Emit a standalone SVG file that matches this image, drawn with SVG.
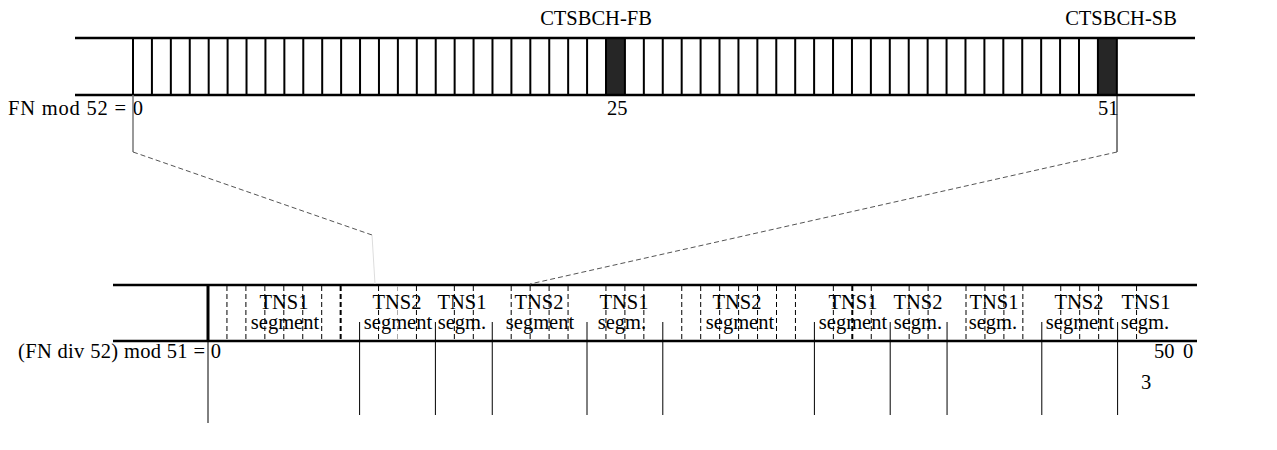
<svg xmlns="http://www.w3.org/2000/svg" width="1277" height="450" viewBox="0 0 1277 450">
<style>
text{font-family:"Liberation Serif","Times New Roman",serif;font-size:20.5px;fill:#000}
.mid{text-anchor:middle}
.end{text-anchor:end}
.bar{stroke:#000;stroke-width:2.6;fill:none}
.cell{stroke:#000;stroke-width:2;fill:none}
.dash{stroke:#000;stroke-width:1;stroke-dasharray:5,3;fill:none}
.bdash{stroke:#000;stroke-width:2;stroke-dasharray:5,3;fill:none}
.solid{stroke:#000;stroke-width:1;fill:none}
.conn{stroke:#555;stroke-width:1;stroke-dasharray:5,3;fill:none}
</style>
<rect width="1277" height="450" fill="#fff"/>
<g id="tdma-frame">
<rect x="606" y="38" width="18.92" height="57" fill="#262626"/>
<rect x="1097.92" y="38" width="18.92" height="57" fill="#262626"/>
<path class="bar" d="M75 38H1195M75 95H1195"/>
<path class="cell" d="M133 38V95M151.92 38V95M170.84 38V95M189.76 38V95M208.68 38V95M227.6 38V95M246.52 38V95M265.44 38V95M284.36 38V95M303.28 38V95M322.2 38V95M341.12 38V95M360.04 38V95M378.96 38V95M397.88 38V95M416.8 38V95M435.72 38V95M454.64 38V95M473.56 38V95M492.48 38V95M511.4 38V95M530.32 38V95M549.24 38V95M568.16 38V95M587.08 38V95M606 38V95M624.92 38V95M643.84 38V95M662.76 38V95M681.68 38V95M700.6 38V95M719.52 38V95M738.44 38V95M757.36 38V95M776.28 38V95M795.2 38V95M814.12 38V95M833.04 38V95M851.96 38V95M870.88 38V95M889.8 38V95M908.72 38V95M927.64 38V95M946.56 38V95M965.48 38V95M984.4 38V95M1003.32 38V95M1022.24 38V95M1041.16 38V95M1060.08 38V95M1079 38V95M1097.92 38V95M1116.84 38V95"/>
<text class="mid" x="596" y="25">CTSBCH-FB</text>
<text class="mid" x="1121" y="25">CTSBCH-SB</text>
<text x="8" y="115" textLength="135" lengthAdjust="spacing">FN mod 52 = 0</text>
<text x="607" y="115">25</text>
<text x="1098" y="115">51</text>
</g>
<g id="multiframe">
<path class="bar" d="M113 285H1197M113 341H1197"/>
<path stroke="#000" stroke-width="3" d="M208 285V341"/>
<path class="solid" d="M208 341V423"/>
<path class="dash" d="M226.95 286V340M245.9 286V340M264.85 286V340M283.8 286V340M302.75 286V340M321.7 286V340M378.55 286V340M416.45 286V340M454.35 286V340M473.3 286V340M511.2 286V340M530.15 286V340M549.1 286V340M568.05 286V340M605.95 286V340M624.9 286V340M643.85 286V340M681.75 286V340M700.7 286V340M719.65 286V340M738.6 286V340M757.55 286V340M776.5 286V340M795.45 286V340M833.35 286V340M871.25 286V340M909.15 286V340M928.1 286V340M966 286V340M984.95 286V340M1003.9 286V340M1022.85 286V340M1060.75 286V340M1079.7 286V340M1098.65 286V340M1136.55 286V340"/>
<path class="dash" d="M397.5 286V340" style="stroke:#aaa"/>
<path class="bdash" d="M340.65 286V340M852.3 286V340"/>
<path class="solid" d="M359.6 322V415M435.4 322V415M492.25 322V415M587 322V415M662.8 322V415M814.4 322V415M890.2 322V415M947.05 322V415M1041.8 322V415M1117.6 322V415"/>
</g>
<g id="segments">
<text class="mid" x="284" y="309">TNS1</text><text class="mid" x="285" y="329">segment</text>
<text class="mid" x="397" y="309">TNS2</text><text class="mid" x="398" y="329">segment</text>
<text class="mid" x="462" y="309">TNS1</text><text class="mid" x="462" y="329">segm.</text>
<text class="mid" x="539" y="309">TNS2</text><text class="mid" x="540" y="329">segment</text>
<text class="mid" x="624" y="309">TNS1</text><text class="mid" x="622" y="329">segm.</text>
<text class="mid" x="737" y="309">TNS2</text><text class="mid" x="740" y="329">segment</text>
<text class="mid" x="853" y="309">TNS1</text><text class="mid" x="853" y="329">segment</text>
<text class="mid" x="918" y="309">TNS2</text><text class="mid" x="918" y="329">segm.</text>
<text class="mid" x="994" y="309">TNS1</text><text class="mid" x="993" y="329">segm.</text>
<text class="mid" x="1079" y="309">TNS2</text><text class="mid" x="1080" y="329">segment</text>
<text class="mid" x="1146" y="309">TNS1</text><text class="mid" x="1145" y="329">segm.</text>
</g>
<g id="labels">
<text x="18" y="358" textLength="203" lengthAdjust="spacing">(FN div 52) mod 51 = 0</text>
<text x="1154" y="358">50</text>
<text x="1183" y="358">0</text>
<text x="1141" y="389">3</text>
</g>
<g id="connectors">
<path stroke="#777" stroke-width="1.5" fill="none" d="M133 95V152"/>
<path class="solid" d="M1117 95V152"/>
<path class="conn" d="M133 152L372 235"/>
<path stroke="#ddd" stroke-width="1" fill="none" d="M372 235L375 284"/>
<path class="conn" d="M1117 152L530 284"/>
</g>
</svg>
